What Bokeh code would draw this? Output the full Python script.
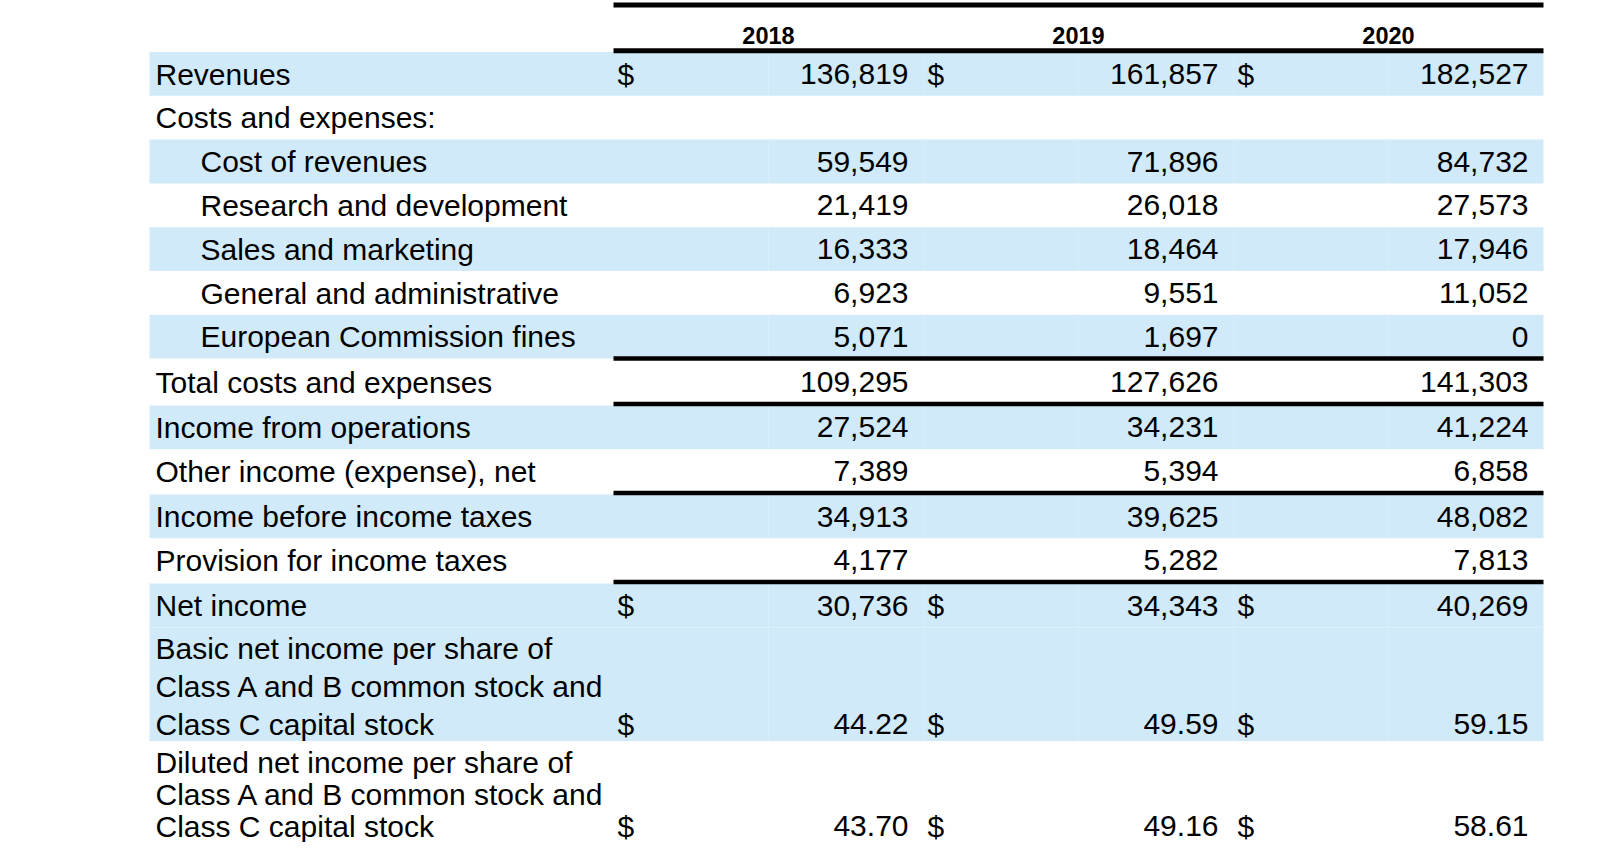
from bokeh.plotting import figure
from bokeh.models import Range1d
from bokeh.core.properties import value
from bokeh.embed import file_html
from bokeh.resources import INLINE

# ---------------- data ----------------
years = ["2018", "2019", "2020"]
labels = [
    "Revenues",
    "Costs and expenses:",
    "Cost of revenues",
    "Research and development",
    "Sales and marketing",
    "General and administrative",
    "European Commission fines",
    "Total costs and expenses",
    "Income from operations",
    "Other income (expense), net",
    "Income before income taxes",
    "Provision for income taxes",
    "Net income",
    "Basic net income per share of\nClass A and B common stock and\nClass C capital stock",
    "Diluted net income per share of\nClass A and B common stock and\nClass C capital stock",
]
v2018 = [136819, None, 59549, 21419, 16333, 6923, 5071, 109295, 27524, 7389, 34913, 4177, 30736, 44.22, 43.70]
v2019 = [161857, None, 71896, 26018, 18464, 9551, 1697, 127626, 34231, 5394, 39625, 5282, 34343, 49.59, 49.16]
v2020 = [182527, None, 84732, 27573, 17946, 11052, 0, 141303, 41224, 6858, 48082, 7813, 40269, 59.15, 58.61]
values = [v2018, v2019, v2020]

# row styling (layout only)
indent = [0, 0, 1, 1, 1, 1, 1, 0, 0, 0, 0, 0, 0, 0, 0]
shaded = [1, 0, 1, 0, 1, 0, 1, 0, 1, 0, 1, 0, 1, 1, 0]
dollar = [1, 0, 0, 0, 0, 0, 0, 0, 0, 0, 0, 0, 1, 1, 1]
rule_before = [0, 0, 0, 0, 0, 0, 0, 1, 1, 0, 1, 0, 1, 0, 0]

# ---------------- layout ----------------
W, H = 1592, 842
FONT = value("Liberation Sans")
BODY = value("30px")
TABLE_L, TABLE_R = 149, 1543
NUM_L = 613
COL_W = (TABLE_R - NUM_L) / 3.0
TOP = 51.5
ROW_H = 43.8
RULE_GAP = 1.5
MULTI_H = 113.5
# vertical text offsets (from row top) for the lines of a row
LINE_OFF_1 = [22.0]
LINE_OFF_3 = [21.3, 59.0, 96.6]
LINE_OFF_LAST = [22.0, 54.0, 85.5]   # last row kept inside the page

p = figure(width=W, height=H, x_range=Range1d(0, W), y_range=Range1d(H, 0),
           output_backend="svg", toolbar_location=None,
           x_axis_location=None, y_axis_location=None, min_border=0)
p.grid.visible = False
p.outline_line_color = None
p.background_fill_color = "white"
p.border_fill_color = "white"

# compute row geometry
tops, bottoms, rule_ys = [], [], []
cur = TOP
for i, lab in enumerate(labels):
    if rule_before[i]:
        rule_ys.append(cur)
        cur += RULE_GAP
    n = lab.count("\n") + 1
    h = ROW_H if n == 1 else MULTI_H
    tops.append(cur)
    bottoms.append(cur + h)
    cur += h

def line_offsets(i):
    n = labels[i].count("\n") + 1
    if n == 1:
        return LINE_OFF_1
    if i == len(labels) - 1:
        return LINE_OFF_LAST
    return LINE_OFF_3

# shaded bands
bl, br, bt, bb = [], [], [], []
for i in range(len(labels)):
    if shaded[i]:
        bl.append(TABLE_L); br.append(TABLE_R); bt.append(tops[i]); bb.append(bottoms[i])
p.quad(left=bl, right=br, top=bt, bottom=bb, fill_color="#D1EAFA", line_color=None)

# faint cell borders inside shaded rows
col_edges = [NUM_L + k * COL_W / 2.0 for k in range(1, 6)]
gx0, gx1, gy0, gy1 = [], [], [], []
for i in range(len(labels)):
    if shaded[i]:
        for cx in col_edges:
            gx0.append(cx); gx1.append(cx); gy0.append(tops[i]); gy1.append(bottoms[i])
p.segment(x0=gx0, y0=gy0, x1=gx1, y1=gy1, line_color="#D9EDFB", line_width=1)
p.segment(x0=[TABLE_L], y0=[bottoms[12]], x1=[TABLE_R], y1=[bottoms[12]],
          line_color="#DDEFFB", line_width=1)

# thick rules
hy = [4.5, 50.2] + rule_ys
hw = [5.0, 5.0] + [4.5] * len(rule_ys)
p.segment(x0=[NUM_L] * len(hy), y0=hy, x1=[TABLE_R] * len(hy), y1=hy,
          line_color="black", line_width=hw)

# year headers
centers = [NUM_L + COL_W * (k + 0.5) for k in range(3)]
p.text(x=centers, y=[35] * 3, text=years, text_align="center", text_baseline="middle",
       text_font=FONT, text_font_size=value("23.5px"), text_font_style="bold", text_color="black")

# labels
lx, ly, lt = [], [], []
for i, lab in enumerate(labels):
    offs = line_offsets(i)
    for j, ln in enumerate(lab.split("\n")):
        lx.append(200 if indent[i] else 155)
        ly.append(tops[i] + offs[j])
        lt.append(ln)
p.text(x=lx, y=ly, text=lt, text_align="left", text_baseline="middle",
       text_font=FONT, text_font_size=BODY, text_color="black")

# numbers and dollar signs
nx, ny, nt = [], [], []
dx, dy = [], []
for k in range(3):
    col_start = NUM_L + COL_W * k
    col_end = col_start + COL_W
    for i, v in enumerate(values[k]):
        if v is None:
            continue
        yy = tops[i] + line_offsets(i)[-1]
        s = f"{v:,}" if isinstance(v, int) else f"{v:.2f}"
        nx.append(col_end - 15); ny.append(yy); nt.append(s)
        if dollar[i]:
            dx.append(col_start + 4); dy.append(yy)
p.text(x=nx, y=ny, text=nt, text_align="right", text_baseline="middle",
       text_font=FONT, text_font_size=BODY, text_color="black")
p.text(x=dx, y=dy, text=["$"] * len(dx), text_align="left", text_baseline="middle",
       text_font=FONT, text_font_size=BODY, text_color="black")

open("out.html", "w").write(file_html(p, INLINE))
